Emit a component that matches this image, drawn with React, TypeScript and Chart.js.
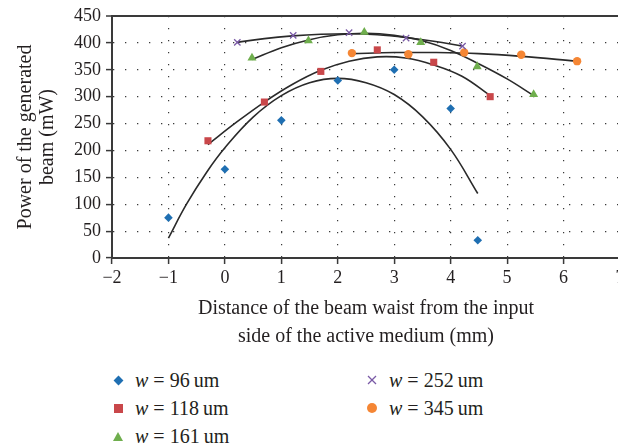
import React, { useEffect, useRef } from "react";
import { Chart, registerables } from "chart.js";

Chart.register(...registerables);

// ---- measured data (markers) ----
const X96 = [-1, 0, 1, 2, 3, 4, 4.48];
const Y96 = [75, 165, 256, 330, 350, 278, 33];
const X118 = [-0.3, 0.7, 1.7, 2.7, 3.7, 4.7];
const Y118 = [218, 290, 347, 387, 364, 300];
const X161 = [0.48, 1.48, 2.47, 3.47, 4.47, 5.47];
const Y161 = [372, 404, 420, 401, 356, 304];
const X252 = [0.22, 1.21, 2.2, 3.21, 4.21];
const Y252 = [401, 414, 419, 409, 394];
const X345 = [2.25, 3.25, 4.24, 5.25, 6.24];
const Y345 = [381, 379, 382, 378, 366];

// ---- trend lines ----
const T96_X = [-1, -0.68, -0.32, 0, 0.5, 1, 1.5, 2, 2.5, 3, 3.5, 4, 4.48];
const T96_Y = [37, 100, 160, 205, 262, 302, 326, 334, 326, 304, 263, 202, 120];
const T118_X = [-0.3, 0.2, 0.7, 1.2, 1.7, 2.2, 2.7, 3.2, 3.7, 4.2, 4.7];
const T118_Y = [211, 252, 290, 323, 349, 366, 374, 372, 359, 338, 302];
const T161_X = [0.48, 1.0, 1.5, 2.0, 2.5, 3.0, 3.5, 4.0, 4.5, 5.0, 5.47];
const T161_Y = [369, 391, 406, 415, 418, 414, 404, 386, 361, 333, 302];
const T252_X = [0.22, 0.7, 1.2, 1.7, 2.2, 2.7, 3.2, 3.7, 4.21];
const T252_Y = [401, 408, 413, 416, 417, 415, 410, 403, 394];
const T345_X = [2.25, 3.0, 3.75, 4.5, 5.25, 6.24];
const T345_Y = [380, 382, 382, 380, 375, 366];

// ---- axes ----
const X_MIN = -2;
const X_MAX = 7;
const Y_MIN = 0;
const Y_MAX = 450;
const Y_STEP = 50;

const LEGEND = ["96", "118", "161", "252", "345"];

const C_BLUE = "#1f6fb2";
const C_RED = "#c9474a";
const C_GREEN = "#6fae4d";
const C_PURPLE = "#7a5aa6";
const C_ORANGE = "#f58634";

const FONT = "'Liberation Serif', 'Times New Roman', serif";
const TEXT = "#231f20";

const pts = (xs: number[], ys: number[]) => xs.map((x, i) => ({ x, y: ys[i] }));

function Marker({ kind, color }: { kind: string; color: string }) {
  const box: React.CSSProperties = {
    position: "absolute",
    left: -6,
    top: -6,
    width: 12,
    height: 12,
    display: "flex",
    alignItems: "center",
    justifyContent: "center",
  };
  let inner: React.ReactNode = null;
  if (kind === "diamond") {
    inner = <div style={{ width: 7, height: 7, background: color, transform: "rotate(45deg)" }} />;
  } else if (kind === "square") {
    inner = <div style={{ width: 9, height: 9, background: color }} />;
  } else if (kind === "triangle") {
    inner = (
      <div
        style={{
          width: 0,
          height: 0,
          borderLeft: "5px solid transparent",
          borderRight: "5px solid transparent",
          borderBottom: `9px solid ${color}`,
        }}
      />
    );
  } else if (kind === "cross") {
    inner = (
      <svg width="12" height="12">
        <line x1="2" y1="2" x2="10" y2="10" stroke={color} strokeWidth="1.3" />
        <line x1="10" y1="2" x2="2" y2="10" stroke={color} strokeWidth="1.3" />
      </svg>
    );
  } else {
    inner = <div style={{ width: 10, height: 10, borderRadius: 5, background: color }} />;
  }
  return <div style={box}>{inner}</div>;
}

export default function App() {
  const ref = useRef<HTMLCanvasElement>(null);

  useEffect(() => {
    const canvas = ref.current;
    if (!canvas) return;
    const trend = (xs: number[], ys: number[]) => ({
      type: "scatter" as const,
      data: pts(xs, ys),
      showLine: true,
      borderColor: "#2a2a2a",
      borderWidth: 1.6,
      pointRadius: 0,
      tension: 0.4,
      fill: false,
      order: 2,
    });
    const marks = (xs: number[], ys: number[], color: string, style: any, r: number) => ({
      type: "scatter" as const,
      data: pts(xs, ys),
      showLine: false,
      backgroundColor: color,
      borderColor: color,
      borderWidth: style === "crossRot" ? 1.3 : 0,
      pointStyle: style,
      pointRadius: r,
      order: 1,
    });

    const chart = new Chart(canvas, {
      type: "scatter",
      data: {
        datasets: [
          trend(T96_X, T96_Y),
          trend(T118_X, T118_Y),
          trend(T161_X, T161_Y),
          trend(T252_X, T252_Y),
          trend(T345_X, T345_Y),
          marks(X96, Y96, C_BLUE, "rectRot", 4.3),
          marks(X118, Y118, C_RED, "rect", 5),
          marks(X161, Y161, C_GREEN, "triangle", 5.2),
          marks(X252, Y252, C_PURPLE, "crossRot", 4.5),
          marks(X345, Y345, C_ORANGE, "circle", 4.2),
        ] as any,
      },
      options: {
        responsive: false,
        animation: false,
        devicePixelRatio: 1,
        layout: { padding: { left: 0, right: 20, top: 16, bottom: 0 } },
        plugins: { legend: { display: false }, tooltip: { enabled: false } },
        scales: {
          x: {
            type: "linear",
            min: X_MIN,
            max: X_MAX,
            afterFit: (s: any) => {
              s.height = 102;
            },
            ticks: {
              stepSize: 1,
              color: TEXT,
              padding: 3,
              font: { family: FONT, size: 18 },
              callback: (v: any) => (Number(v) < 0 ? "\u2212" + Math.abs(Number(v)) : String(v)),
            },
            grid: {
              color: "#3a3a3a",
              lineWidth: 1.2,
              drawTicks: true,
              tickLength: 6,
              tickColor: "#3a3a3a",
              tickWidth: 1.5,
              tickBorderDash: [],
            },
            border: { display: true, color: "#3a3a3a", width: 2, dash: [1.3, 10.7] },
            title: {
              display: true,
              text: ["Distance of the beam waist from the input", "side of the active medium (mm)"],
              color: TEXT,
              font: { family: FONT, size: 20, lineHeight: 1.4 },
              padding: { top: 0, bottom: 9 },
            },
          },
          y: {
            type: "linear",
            min: Y_MIN,
            max: Y_MAX,
            afterFit: (s: any) => {
              s.width = 112;
            },
            ticks: {
              stepSize: Y_STEP,
              color: TEXT,
              padding: 5,
              font: { family: FONT, size: 18 },
            },
            grid: {
              color: "#3a3a3a",
              lineWidth: (c: any) => (c.tick && c.tick.value === Y_MAX ? 2 : 1.2),
              drawTicks: true,
              tickLength: 6,
              tickColor: "#3a3a3a",
              tickWidth: 1.5,
              tickBorderDash: [],
            },
            border: {
              display: true,
              color: "#3a3a3a",
              width: 2,
              dash: (c: any) => (c && c.tick && c.tick.value === Y_MAX ? [] : [1.3, 10.7]),
            },
            title: {
              display: true,
              text: ["Power of the generated", "beam (mW)"],
              color: TEXT,
              font: { family: FONT, size: 20, lineHeight: 1.1 },
              padding: { top: 15, bottom: 0 },
            },
          },
        },
      } as any,
    });
    return () => chart.destroy();
  }, []);

  const legendItems = [
    { label: LEGEND[0], kind: "diamond", color: C_BLUE, x: 118, y: 380 },
    { label: LEGEND[1], kind: "square", color: C_RED, x: 118, y: 408 },
    { label: LEGEND[2], kind: "triangle", color: C_GREEN, x: 118, y: 436 },
    { label: LEGEND[3], kind: "cross", color: C_PURPLE, x: 372, y: 380 },
    { label: LEGEND[4], kind: "circle", color: C_ORANGE, x: 372, y: 408 },
  ];

  return (
    <div
      style={{
        position: "fixed",
        left: 0,
        top: 0,
        width: 618,
        height: 447,
        overflow: "hidden",
        background: "#fff",
      }}
    >
      <canvas
        ref={ref}
        width={640}
        height={360}
        style={{ position: "absolute", left: 0, top: 0, width: 640, height: 360 }}
      />
      {legendItems.map((it) => (
        <div key={it.label} style={{ position: "absolute", left: it.x, top: it.y }}>
          <Marker kind={it.kind} color={it.color} />
          <div
            style={{
              position: "absolute",
              left: 17,
              top: -12,
              whiteSpace: "nowrap",
              fontFamily: FONT,
              fontSize: 20,
              lineHeight: "24px",
              color: TEXT,
            }}
          >
            <i>w</i> = {it.label}{"\u2009"}um
          </div>
        </div>
      ))}
    </div>
  );
}
